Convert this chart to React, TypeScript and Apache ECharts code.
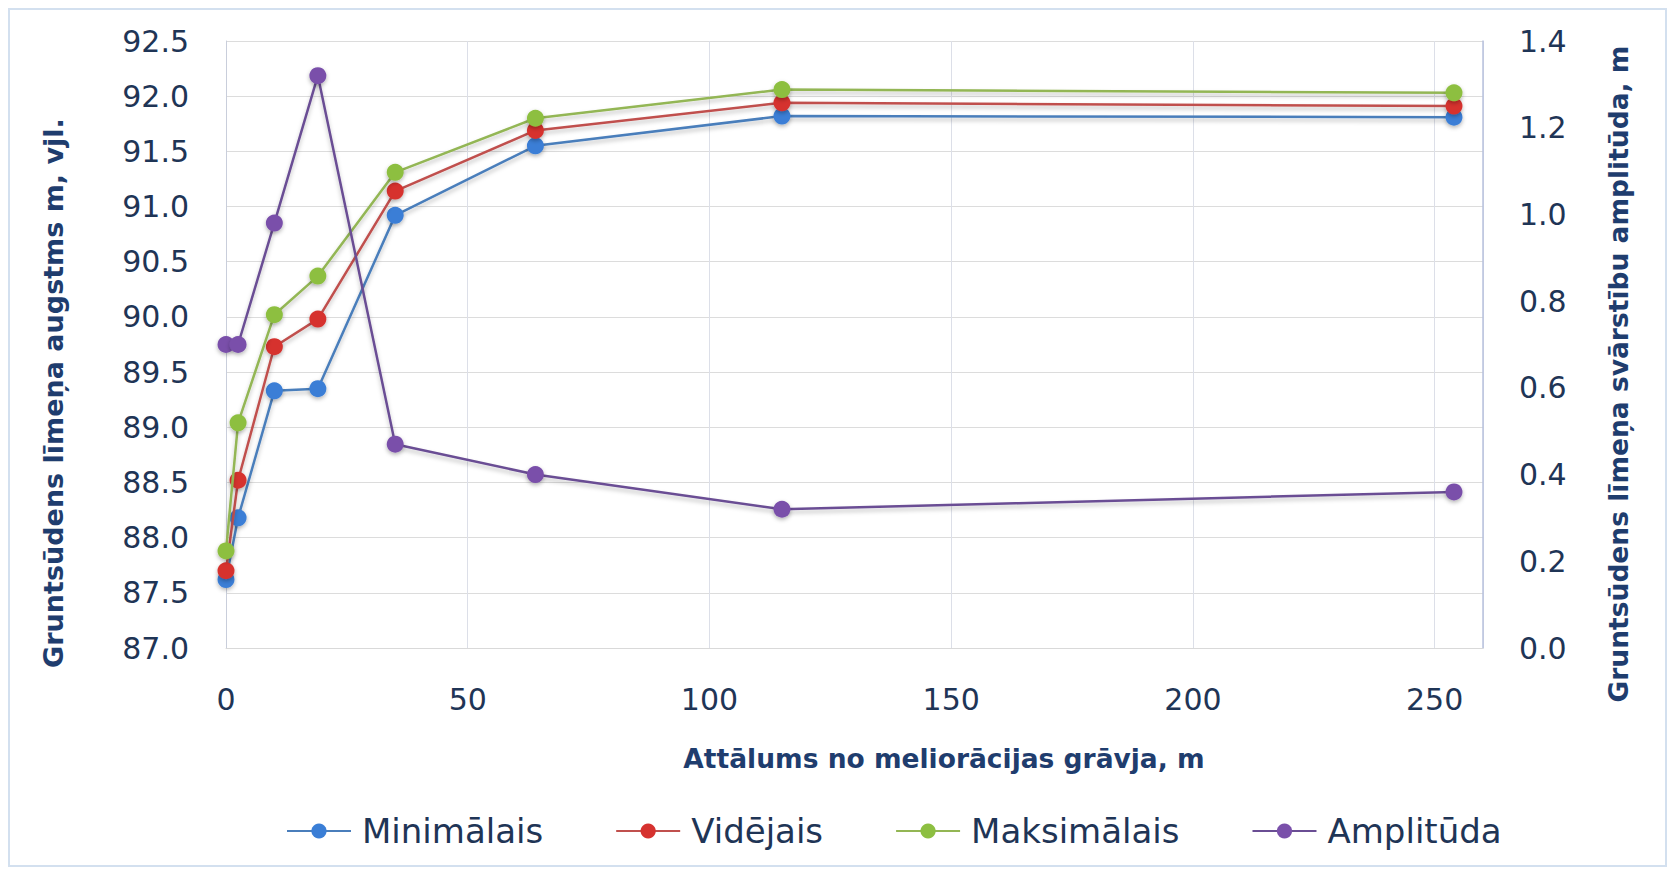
import React, { useEffect, useRef } from "react";
import * as echarts from "echarts";

const distances = [0, 2.5, 10, 19, 35, 64, 115, 254];
const minValues = [87.62, 88.18, 89.33, 89.35, 90.92, 91.55, 91.82, 91.81];
const meanValues = [87.7, 88.52, 89.73, 89.98, 91.14, 91.69, 91.94, 91.91];
const maxValues = [87.88, 89.04, 90.02, 90.37, 91.31, 91.8, 92.06, 92.03];
const amplitudeValues = [0.7, 0.7, 0.98, 1.32, 0.47, 0.4, 0.32, 0.36];
const seriesNames = ["Minimālais", "Vidējais", "Maksimālais", "Amplitūda"];
const xTitle = "Attālums no meliorācijas grāvja, m";
const yLeftTitle = "Gruntsūdens līmeņa augstms m, vjl.";
const yRightTitle = "Gruntsūdens līmeņa svārstību amplitūda, m";

const lineColors = ["#4a7ebb", "#c0504d", "#93b654", "#6a4e94"];
const markerColors = ["#3a7ed6", "#d6322f", "#8dbf41", "#7a50aa"];

const FONT = "DejaVu Sans";
const LABEL_COLOR = "#1f3556";
const TITLE_COLOR = "#1f3d6e";

function pairs(xs: number[], ys: number[]) {
  return xs.map((x, i) => [x, ys[i]]);
}

export default function App() {
  const ref = useRef<HTMLDivElement>(null);
  useEffect(() => {
    if (!ref.current) return;
    const chart = echarts.init(ref.current, undefined, { renderer: "svg" });
    const allValues = [minValues, meanValues, maxValues, amplitudeValues];
    const series = allValues.map((vals, i) => ({
      name: seriesNames[i],
      type: "line",
      yAxisIndex: i === 3 ? 1 : 0,
      data: pairs(distances, vals),
      symbol: "circle",
      symbolSize: 17,
      lineStyle: {
        color: lineColors[i],
        width: 2.5,
        shadowColor: "rgba(0,0,0,0.25)",
        shadowBlur: 4,
        shadowOffsetY: 3,
      },
      itemStyle: {
        color: markerColors[i],
        shadowColor: "rgba(0,0,0,0.3)",
        shadowBlur: 4,
        shadowOffsetY: 2,
      },
      z: 2 + i,
    }));
    chart.setOption({
      animation: false,
      backgroundColor: "#ffffff",
      grid: { left: 218, right: 184, top: 33, bottom: 219, containLabel: false },
      xAxis: {
        type: "value",
        min: 0,
        max: 260,
        interval: 50,
        axisLine: { show: true, lineStyle: { color: "#d9d9d9", width: 1 } },
        axisTick: { show: false },
        splitLine: { show: true, lineStyle: { color: "#dcdfe8", width: 1 } },
        axisLabel: {
          showMaxLabel: false,
          margin: 36,
          color: LABEL_COLOR,
          fontFamily: FONT,
          fontSize: 30,
        },
      },
      yAxis: [
        {
          type: "value",
          min: 87,
          max: 92.5,
          interval: 0.5,
          axisLine: { show: true, lineStyle: { color: "#c9cedb", width: 1 } },
          axisTick: { show: false },
          splitLine: { show: true, lineStyle: { color: "#dcdcdc", width: 1 } },
          axisLabel: {
            margin: 37,
            color: LABEL_COLOR,
            fontFamily: FONT,
            fontSize: 30,
            formatter: (v: number) => v.toFixed(1),
          },
        },
        {
          type: "value",
          min: 0,
          max: 1.4,
          interval: 0.2,
          position: "right",
          axisLine: { show: true, lineStyle: { color: "#b8c2de", width: 1.5 } },
          axisTick: { show: false },
          splitLine: { show: false },
          axisLabel: {
            margin: 36,
            color: LABEL_COLOR,
            fontFamily: FONT,
            fontSize: 30,
            formatter: (v: number) => v.toFixed(1),
          },
        },
      ],
      legend: {
        left: 273,
        top: 801,
        itemWidth: 64,
        itemHeight: 19,
        itemGap: 72,
        data: seriesNames,
        textStyle: {
          color: LABEL_COLOR,
          fontFamily: FONT,
          fontSize: 34,
          padding: [0, 0, 0, 6],
        },
      },
      graphic: [
        {
          type: "rect",
          shape: { x: 1, y: 1, width: 1657, height: 857 },
          style: { fill: "none", stroke: "#d3e0ef", lineWidth: 2 },
          silent: true,
        },
        {
          type: "text",
          x: 45,
          y: 385,
          rotation: Math.PI / 2,
          style: {
            text: yLeftTitle,
            fill: TITLE_COLOR,
            font: `bold 27px "${FONT}"`,
            textAlign: "center",
            textVerticalAlign: "middle",
          },
        },
        {
          type: "text",
          x: 1610,
          y: 366,
          rotation: Math.PI / 2,
          style: {
            text: yRightTitle,
            fill: TITLE_COLOR,
            font: `bold 26.5px "${FONT}"`,
            textAlign: "center",
            textVerticalAlign: "middle",
          },
        },
        {
          type: "text",
          x: 936,
          y: 750,
          style: {
            text: xTitle,
            fill: TITLE_COLOR,
            font: `bold 26.5px "${FONT}"`,
            textAlign: "center",
            textVerticalAlign: "middle",
          },
        },
      ],
      series,
    });
    return () => chart.dispose();
  }, []);
  return <div ref={ref} style={{ width: 1659, height: 859 }} />;
}
